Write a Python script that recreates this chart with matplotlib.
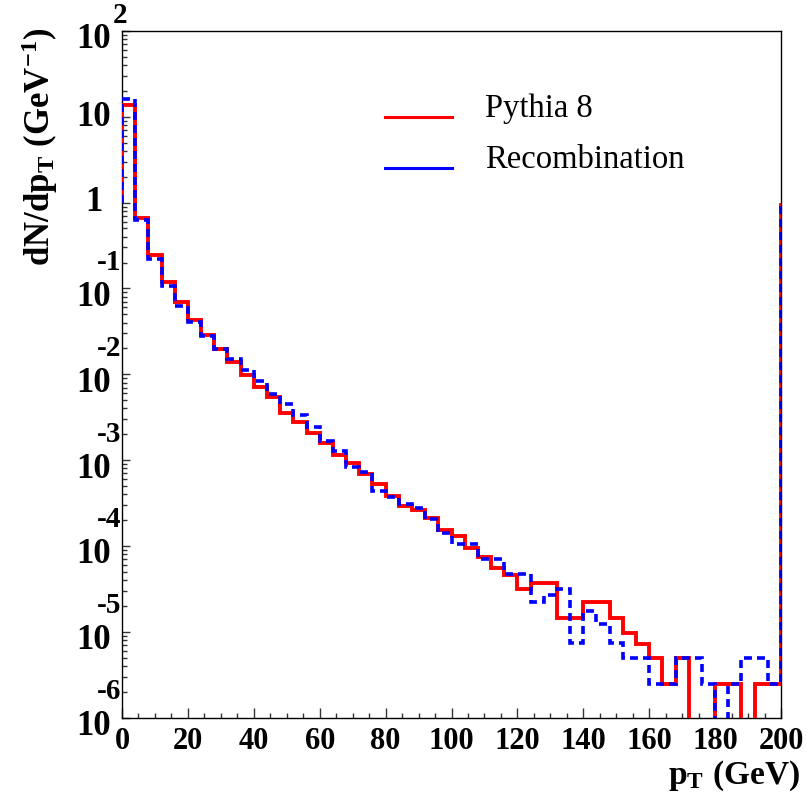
import numpy as np
import matplotlib
matplotlib.use("Agg")
import matplotlib.pyplot as plt
from matplotlib.ticker import MultipleLocator, LogLocator, NullFormatter

plt.rcParams['mathtext.fontset'] = 'custom'
plt.rcParams['mathtext.rm'] = 'Liberation Serif:bold'
plt.rcParams['mathtext.bf'] = 'Liberation Serif:bold'
plt.rcParams['mathtext.it'] = 'Liberation Serif:bold'

# ---- data (4 GeV bins from 0 to 200 GeV) ----
bin_edges = np.arange(0, 201, 4)
pythia8 = [13.55, 0.662, 0.243, 0.120, 0.0690, 0.0434, 0.0284, 0.0197, 0.01377, 0.00979,
           0.00703, 0.00538, 0.00356, 0.00279, 0.00209, 0.00157, 0.00114, 0.000916, 0.000687, 0.000521,
           0.000384, 0.000291, 0.000261, 0.000209, 0.000153, 0.000131, 9.35e-5, 7.35e-5, 5.58e-5, 4.63e-5,
           3.16e-5, 3.66e-5, 3.66e-5, 1.45e-5, 1.45e-5, 2.23e-5, 2.23e-5, 1.45e-5, 9.6e-6, 7.2e-6,
           4.9e-6, 2.45e-6, 4.9e-6, 0.0, 0.0, 2.45e-6, 2.45e-6, 0.0, 2.45e-6, 2.45e-6]
recombination = [16.0, 0.635, 0.218, 0.108, 0.0624, 0.0411, 0.0279, 0.0198, 0.0152, 0.0111,
                 0.00839, 0.00583, 0.00450, 0.00334, 0.00243, 0.00168, 0.00128, 0.000822, 0.000731, 0.000439,
                 0.000373, 0.000305, 0.000274, 0.000207, 0.000140, 0.000105, 0.000105, 7.11e-5, 7.11e-5, 4.75e-5,
                 4.75e-5, 2.23e-5, 2.67e-5, 3.14e-5, 7.4e-6, 1.72e-5, 1.23e-5, 7.4e-6, 4.9e-6, 4.9e-6,
                 2.45e-6, 2.45e-6, 4.9e-6, 4.9e-6, 2.45e-6, 0.0, 2.45e-6, 4.9e-6, 4.9e-6, 2.45e-6]
labels = ["Pythia 8", "Recombination"]
x_ticks = [0, 20, 40, 60, 80, 100, 120, 140, 160, 180, 200]

W, H = 807, 797
fig = plt.figure(figsize=(W / 100, H / 100), dpi=100)
L, R, T, B = 122, 781, 31, 717.5
ax = fig.add_axes([L / W, 1 - B / H, (R - L) / W, (B - T) / H])
ax.set_yscale('log')
ax.set_xlim(0, 200)
ax.set_ylim(1e-6, 1e2)

ax.stairs(pythia8, bin_edges, baseline=1.0, color='#ff0000', lw=2.8, label=labels[0], zorder=3)
ax.stairs(recombination, bin_edges, baseline=1.0, color='#0000ff', lw=2.6,
          linestyle=(0, (2.2, 1.4)), label=labels[1], zorder=4)

# frame & ticks
for s in ax.spines.values():
    s.set_linewidth(1.0)
ax.xaxis.set_major_locator(MultipleLocator(20))
ax.xaxis.set_minor_locator(MultipleLocator(5))
ax.yaxis.set_major_locator(LogLocator(base=10, numticks=20))
ax.yaxis.set_minor_locator(LogLocator(base=10, subs=np.arange(2, 10), numticks=20))
ax.yaxis.set_minor_formatter(NullFormatter())
ax.tick_params(axis='both', which='both', direction='in', top=False, right=False, color='#333333')
ax.tick_params(axis='x', which='major', length=7.5, width=1.0, pad=7)
ax.tick_params(axis='x', which='minor', length=3.8, width=1.0)
ax.tick_params(axis='y', which='major', length=6, width=1.0)
ax.tick_params(axis='y', which='minor', length=3.4, width=1.0)
ax.set_xticks(x_ticks)
ax.set_xticklabels([str(v) for v in x_ticks], fontfamily='Liberation Serif',
                   fontweight='bold', fontsize=22)
ax.set_yticklabels([])

# ROOT-style y labels
def ylab(val, text, dx, dy, ha='right', size=25):
    ax.annotate(text, xy=(0, val), xycoords=('axes fraction', 'data'),
                xytext=(dx * 0.72, dy * 0.72), textcoords='offset points',
                ha=ha, va='center', annotation_clip=False,
                fontfamily='Liberation Serif', fontweight='bold', fontsize=size)

ylab(1e2, "10", -11, -9)
ylab(1e2, "2", -9, 15, ha='left', size=21)
ylab(1e1, "10", -11, -1)
ylab(1e0, "1", -19, 0)
for n in range(1, 7):
    ylab(10.0 ** (-n), "10", -11, -9)
    ylab(10.0 ** (-n), "-%d" % n, -1, 26, size=21)

# axis titles
fig.text(40 / W, 1 - 28 / H, r'$\mathrm{dN/dp_{T}\ (GeV^{-1})}$', rotation=90,
         ha='center', va='top', fontsize=25)
fig.text(800 / W, 1 - 776 / H, r'$\mathrm{p_{T}\ (GeV)}$', ha='right', va='center', fontsize=24)

# legend (manual, ROOT style)
lx0, lx1 = 385, 452
for yy, col, txt in [(117, '#ff0000', labels[0]), (168, '#0000ff', labels[1])]:
    fig.add_artist(plt.Line2D([lx0 / W, lx1 / W], [1 - yy / H, 1 - yy / H], color=col, lw=2.2))
    fig.text(485 / W, 1 - yy / H, txt, ha='left', va='baseline',
             fontfamily='Liberation Serif', fontsize=23.5)

fig.savefig('out.png', dpi=100)
